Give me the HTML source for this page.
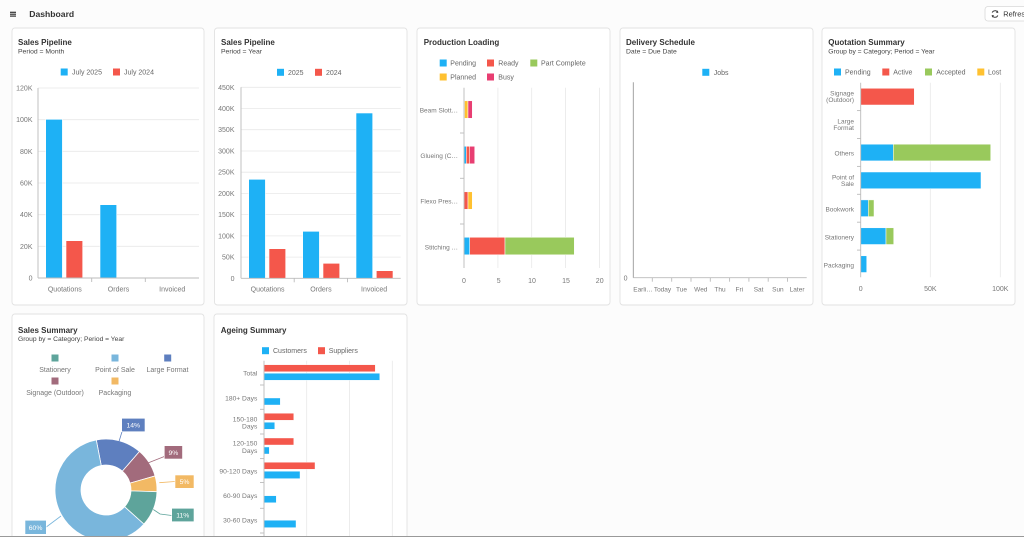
<!DOCTYPE html>
<html><head><meta charset="utf-8">
<style>
html,body{margin:0;padding:0;width:1024px;height:537px;overflow:hidden;background:#fcfcfc;}
svg{display:block;font-family:"Liberation Sans",sans-serif;}
</style></head>
<body>
<svg width="1024" height="537" viewBox="0 0 1024 537" xmlns="http://www.w3.org/2000/svg">
<!-- header -->
<g stroke="#333" stroke-width="1.2">
<line x1="10" y1="12.3" x2="16" y2="12.3"/><line x1="10" y1="14.2" x2="16" y2="14.2"/><line x1="10" y1="16.1" x2="16" y2="16.1"/>
</g>
<text x="29.3" y="17.2" font-size="8.6" font-weight="bold" fill="#333">Dashboard</text>
<rect x="985" y="6.5" width="60" height="14.5" rx="3" fill="#fff" stroke="#d8d8d8" stroke-width="0.8"/>
<g fill="none" stroke="#444" stroke-width="1">
<path d="M992.2,12.6 A3,3 0 0 1 997.6,12.2"/><path d="M997.8,15.4 A3,3 0 0 1 992.4,15.8"/>
</g>
<path d="M997.9,10.4 L998.3,13 L995.8,12.6 Z" fill="#444"/>
<path d="M992.1,17.6 L991.7,15 L994.2,15.4 Z" fill="#444"/>
<text x="1003.3" y="16.6" font-size="7.4" fill="#333">Refresh</text>

<!-- cards -->
<g fill="#fff" stroke="#e2e2e2" stroke-width="0.9">
<rect x="12" y="28" width="192" height="277" rx="3"/>
<rect x="214.5" y="28" width="192.5" height="277" rx="3"/>
<rect x="417" y="28" width="193" height="277" rx="3"/>
<rect x="620" y="28" width="193" height="277" rx="3"/>
<rect x="822" y="28" width="193" height="277" rx="3"/>
<rect x="12" y="314" width="192" height="240" rx="3"/>
<rect x="214" y="314" width="193" height="240" rx="3"/>
</g>

<!-- ========== Card 1 ========== -->
<text x="18" y="45" font-size="8" font-weight="bold" fill="#333">Sales Pipeline</text>
<text x="18" y="53.5" font-size="6.8" fill="#444">Period = Month</text>
<rect x="60.7" y="68.5" width="7" height="7" fill="#1eb1f5"/>
<text x="72" y="74.5" font-size="7" fill="#666">July 2025</text>
<rect x="113" y="68.5" width="7" height="7" fill="#f4574b"/>
<text x="124" y="74.5" font-size="7" fill="#666">July 2024</text>
<g stroke="#e8e8e8" stroke-width="0.8">
<line x1="38" y1="88" x2="199" y2="88"/><line x1="38" y1="119.7" x2="199" y2="119.7"/><line x1="38" y1="151.3" x2="199" y2="151.3"/>
<line x1="38" y1="183" x2="199" y2="183"/><line x1="38" y1="214.7" x2="199" y2="214.7"/><line x1="38" y1="246.3" x2="199" y2="246.3"/>
</g>
<g font-size="7" fill="#777" text-anchor="end">
<text x="32.5" y="90.5">120K</text><text x="32.5" y="122.2">100K</text><text x="32.5" y="153.8">80K</text>
<text x="32.5" y="185.5">60K</text><text x="32.5" y="217.2">40K</text><text x="32.5" y="248.8">20K</text><text x="32.5" y="280.5">0</text>
</g>
<g stroke="#fff" stroke-width="0.6">
<rect x="45.7" y="119.3" width="16.7" height="158.7" fill="#1eb1f5"/>
<rect x="66" y="240.7" width="16.7" height="37.3" fill="#f4574b"/>
<rect x="100" y="204.7" width="16.7" height="73.3" fill="#1eb1f5"/>
</g>
<g stroke="#bbb" stroke-width="0.9">
<line x1="38" y1="88" x2="38" y2="278"/><line x1="38" y1="278" x2="199" y2="278"/>
<line x1="91.7" y1="278" x2="91.7" y2="282"/><line x1="145.3" y1="278" x2="145.3" y2="282"/>
</g>
<g font-size="7" fill="#777" text-anchor="middle">
<text x="64.8" y="291.5">Quotations</text><text x="118.5" y="291.5">Orders</text><text x="172.2" y="291.5">Invoiced</text>
</g>

<!-- ========== Card 2 ========== -->
<text x="221" y="45" font-size="8" font-weight="bold" fill="#333">Sales Pipeline</text>
<text x="221" y="53.5" font-size="6.8" fill="#444">Period = Year</text>
<rect x="277" y="68.8" width="7" height="7" fill="#1eb1f5"/>
<text x="288" y="74.8" font-size="7" fill="#666">2025</text>
<rect x="315" y="68.8" width="7" height="7" fill="#f4574b"/>
<text x="326" y="74.8" font-size="7" fill="#666">2024</text>
<g stroke="#e8e8e8" stroke-width="0.8">
<line x1="241" y1="87.3" x2="400.7" y2="87.3"/><line x1="241" y1="108.5" x2="400.7" y2="108.5"/><line x1="241" y1="129.7" x2="400.7" y2="129.7"/>
<line x1="241" y1="151" x2="400.7" y2="151"/><line x1="241" y1="172.2" x2="400.7" y2="172.2"/><line x1="241" y1="193.4" x2="400.7" y2="193.4"/>
<line x1="241" y1="214.6" x2="400.7" y2="214.6"/><line x1="241" y1="235.9" x2="400.7" y2="235.9"/><line x1="241" y1="257.1" x2="400.7" y2="257.1"/>
</g>
<g font-size="7" fill="#777" text-anchor="end">
<text x="234.5" y="89.8">450K</text><text x="234.5" y="111">400K</text><text x="234.5" y="132.2">350K</text>
<text x="234.5" y="153.5">300K</text><text x="234.5" y="174.7">250K</text><text x="234.5" y="195.9">200K</text>
<text x="234.5" y="217.1">150K</text><text x="234.5" y="238.4">100K</text><text x="234.5" y="259.6">50K</text><text x="234.5" y="280.8">0</text>
</g>
<g stroke="#fff" stroke-width="0.6">
<rect x="248.7" y="179.3" width="16.7" height="99" fill="#1eb1f5"/>
<rect x="269" y="248.7" width="16.7" height="29.6" fill="#f4574b"/>
<rect x="302.7" y="231.3" width="16.7" height="47" fill="#1eb1f5"/>
<rect x="323" y="263.3" width="16.7" height="15" fill="#f4574b"/>
<rect x="356" y="113" width="16.7" height="165.3" fill="#1eb1f5"/>
<rect x="376.3" y="270.7" width="16.7" height="7.6" fill="#f4574b"/>
</g>
<g stroke="#bbb" stroke-width="0.9">
<line x1="241" y1="87.3" x2="241" y2="278.3"/><line x1="241" y1="278.3" x2="400.7" y2="278.3"/>
<line x1="294.2" y1="278.3" x2="294.2" y2="282.3"/><line x1="347.5" y1="278.3" x2="347.5" y2="282.3"/>
</g>
<g font-size="7" fill="#777" text-anchor="middle">
<text x="267.6" y="291.5">Quotations</text><text x="320.9" y="291.5">Orders</text><text x="374.1" y="291.5">Invoiced</text>
</g>

<!-- ========== Card 3 ========== -->
<text x="423.7" y="45" font-size="8" font-weight="bold" fill="#333">Production Loading</text>
<g font-size="7" fill="#666">
<rect x="439.7" y="59.5" width="7" height="7" fill="#1eb1f5"/><text x="450.3" y="65.5">Pending</text>
<rect x="487" y="59.5" width="7" height="7" fill="#f4574b"/><text x="498.3" y="65.5">Ready</text>
<rect x="530.3" y="59.5" width="7" height="7" fill="#99c95c"/><text x="541" y="65.5">Part Complete</text>
<rect x="439.7" y="73.5" width="7" height="7" fill="#ffc130"/><text x="450.3" y="79.5">Planned</text>
<rect x="487" y="73.5" width="7" height="7" fill="#e83e72"/><text x="498.3" y="79.5">Busy</text>
</g>
<g stroke="#e8e8e8" stroke-width="0.8">
<line x1="497.9" y1="87.7" x2="497.9" y2="268"/><line x1="531.7" y1="87.7" x2="531.7" y2="268"/>
<line x1="565.6" y1="87.7" x2="565.6" y2="268"/><line x1="599.4" y1="87.7" x2="599.4" y2="268"/>
</g>
<g stroke="#fff" stroke-width="0.5">
<rect x="464.5" y="100.8" width="3.5" height="17.5" fill="#ffc130"/>
<rect x="468" y="100.8" width="4.3" height="17.5" fill="#e83e72"/>
<rect x="464" y="146.3" width="2.3" height="17.5" fill="#1eb1f5"/>
<rect x="466.3" y="146.3" width="3.4" height="17.5" fill="#f4574b"/>
<rect x="469.7" y="146.3" width="5" height="17.5" fill="#e83e72"/>
<rect x="464" y="191.8" width="4" height="17.5" fill="#f4574b"/>
<rect x="468" y="191.8" width="4.3" height="17.5" fill="#ffc130"/>
<rect x="464" y="237.3" width="5.7" height="17.5" fill="#1eb1f5"/>
<rect x="469.7" y="237.3" width="35.3" height="17.5" fill="#f4574b"/>
<rect x="505" y="237.3" width="69.3" height="17.5" fill="#99c95c"/>
</g>
<g stroke="#bbb" stroke-width="0.9">
<line x1="464" y1="87.7" x2="464" y2="268"/>
<line x1="460" y1="133" x2="464" y2="133"/><line x1="460" y1="178.3" x2="464" y2="178.3"/><line x1="460" y1="224" x2="464" y2="224"/>
</g>
<g font-size="6.5" fill="#777" text-anchor="end">
<text x="458" y="112.6">Beam Slott…</text><text x="458" y="158">Glueing (C…</text>
<text x="458" y="203.6">Flexo Pres…</text><text x="458" y="249.3">Stitching …</text>
</g>
<g font-size="7" fill="#777" text-anchor="middle">
<text x="464" y="282.8">0</text><text x="498.7" y="282.8">5</text><text x="532" y="282.8">10</text>
<text x="566" y="282.8">15</text><text x="599.7" y="282.8">20</text>
</g>

<!-- ========== Card 4 ========== -->
<text x="626" y="45" font-size="8" font-weight="bold" fill="#333">Delivery Schedule</text>
<text x="626" y="53.5" font-size="6.8" fill="#444">Date = Due Date</text>
<rect x="702.3" y="68.8" width="7" height="7" fill="#1eb1f5"/>
<text x="713.7" y="74.8" font-size="7" fill="#666">Jobs</text>
<g stroke="#999" stroke-width="0.9">
<line x1="633.3" y1="82.3" x2="633.3" y2="277.7"/>
</g>
<g stroke="#bbb" stroke-width="0.9">
<line x1="633.3" y1="277.7" x2="806.7" y2="277.7"/>
<line x1="652.3" y1="277.7" x2="652.3" y2="281.7"/><line x1="671.7" y1="277.7" x2="671.7" y2="281.7"/>
<line x1="691" y1="277.7" x2="691" y2="281.7"/><line x1="710.3" y1="277.7" x2="710.3" y2="281.7"/>
<line x1="729.6" y1="277.7" x2="729.6" y2="281.7"/><line x1="748.9" y1="277.7" x2="748.9" y2="281.7"/>
<line x1="768.2" y1="277.7" x2="768.2" y2="281.7"/><line x1="787.5" y1="277.7" x2="787.5" y2="281.7"/>
</g>
<text x="627.5" y="280.5" font-size="7" fill="#777" text-anchor="end">0</text>
<g font-size="6.5" fill="#777" text-anchor="middle">
<text x="643" y="291.6">Earli…</text><text x="662.5" y="291.6">Today</text><text x="681.5" y="291.6">Tue</text>
<text x="700.8" y="291.6">Wed</text><text x="720" y="291.6">Thu</text><text x="739.3" y="291.6">Fri</text>
<text x="758.6" y="291.6">Sat</text><text x="777.9" y="291.6">Sun</text><text x="797.1" y="291.6">Later</text>
</g>

<!-- ========== Card 5 ========== -->
<text x="828.3" y="45" font-size="8" font-weight="bold" fill="#333">Quotation Summary</text>
<text x="828.3" y="53.5" font-size="6.7" fill="#444">Group by = Category; Period = Year</text>
<g font-size="7" fill="#666">
<rect x="834" y="68.5" width="7" height="7" fill="#1eb1f5"/><text x="845" y="74.5">Pending</text>
<rect x="882.3" y="68.5" width="7" height="7" fill="#f4574b"/><text x="893.3" y="74.5">Active</text>
<rect x="925" y="68.5" width="7" height="7" fill="#99c95c"/><text x="936.3" y="74.5">Accepted</text>
<rect x="977.3" y="68.5" width="7" height="7" fill="#ffc130"/><text x="988" y="74.5">Lost</text>
</g>
<g stroke="#e8e8e8" stroke-width="0.8">
<line x1="930.3" y1="82.7" x2="930.3" y2="277.3"/><line x1="1000.3" y1="82.7" x2="1000.3" y2="277.3"/>
</g>
<g stroke="#fff" stroke-width="0.5">
<rect x="860.7" y="88.3" width="53.6" height="16.7" fill="#f4574b"/>
<rect x="860.7" y="144.2" width="32.6" height="16.7" fill="#1eb1f5"/>
<rect x="893.3" y="144.2" width="97.4" height="16.7" fill="#99c95c"/>
<rect x="860.7" y="172" width="120.3" height="16.7" fill="#1eb1f5"/>
<rect x="860.7" y="199.9" width="7.6" height="16.7" fill="#1eb1f5"/>
<rect x="868.3" y="199.9" width="5.7" height="16.7" fill="#99c95c"/>
<rect x="860.7" y="227.8" width="25.3" height="16.7" fill="#1eb1f5"/>
<rect x="886" y="227.8" width="7.7" height="16.7" fill="#99c95c"/>
<rect x="860.7" y="255.8" width="6" height="16.7" fill="#1eb1f5"/>
</g>
<g stroke="#bbb" stroke-width="0.9">
<line x1="860.7" y1="82.7" x2="860.7" y2="277.3"/>
<line x1="857" y1="110.6" x2="860.7" y2="110.6"/><line x1="857" y1="138.5" x2="860.7" y2="138.5"/>
<line x1="857" y1="166.4" x2="860.7" y2="166.4"/><line x1="857" y1="194.3" x2="860.7" y2="194.3"/>
<line x1="857" y1="222.2" x2="860.7" y2="222.2"/><line x1="857" y1="250.1" x2="860.7" y2="250.1"/>
</g>
<g font-size="6.5" fill="#777" text-anchor="end">
<text x="854" y="95.6">Signage</text><text x="854" y="101.8">(Outdoor)</text>
<text x="854" y="123.6">Large</text><text x="854" y="130">Format</text>
<text x="854" y="155.6">Others</text>
<text x="854" y="179.6">Point of</text><text x="854" y="186">Sale</text>
<text x="854" y="211.3">Bookwork</text>
<text x="854" y="239.6">Stationery</text>
<text x="854" y="267.6">Packaging</text>
</g>
<g font-size="7" fill="#777" text-anchor="middle">
<text x="860.7" y="291.2">0</text><text x="930.3" y="291.2">50K</text><text x="1000.3" y="291.2">100K</text>
</g>

<!-- ========== Card 6 ========== -->
<text x="18" y="333" font-size="8" font-weight="bold" fill="#333">Sales Summary</text>
<text x="18" y="340.8" font-size="6.7" fill="#444">Group by = Category; Period = Year</text>
<rect x="51.5" y="354.5" width="7" height="7" fill="#5ea49b"/>
<rect x="111.5" y="354.5" width="7" height="7" fill="#79b6dc"/>
<rect x="164.2" y="354.5" width="7" height="7" fill="#5e7fbf"/>
<rect x="51.5" y="377.5" width="7" height="7" fill="#a26b7c"/>
<rect x="111.5" y="377.5" width="7" height="7" fill="#f2b964"/>
<g font-size="7" fill="#777" text-anchor="middle">
<text x="55" y="371.8">Stationery</text><text x="115" y="371.8">Point of Sale</text><text x="167.5" y="371.8">Large Format</text>
<text x="55" y="394.8">Signage (Outdoor)</text><text x="115" y="394.8">Packaging</text>
</g>
<g stroke="#fff" stroke-width="0.8">
<path d="M96.27,439.94 A51,51 0 0 1 139.46,451.51 L122.40,471.13 A25,25 0 0 0 101.23,465.46 Z" fill="#5e7fbf"/>
<path d="M139.46,451.51 A51,51 0 0 1 155.03,475.94 L130.03,483.11 A25,25 0 0 0 122.40,471.13 Z" fill="#a26b7c"/>
<path d="M155.03,475.94 A51,51 0 0 1 156.97,491.78 L130.98,490.87 A25,25 0 0 0 130.03,483.11 Z" fill="#f2b964"/>
<path d="M156.97,491.78 A51,51 0 0 1 143.90,524.12 L124.58,506.73 A25,25 0 0 0 130.98,490.87 Z" fill="#5ea49b"/>
<path d="M143.90,524.12 A51,51 0 1 1 96.27,439.94 L101.23,465.46 A25,25 0 1 0 124.58,506.73 Z" fill="#79b6dc"/>
</g>
<g fill="none" stroke-width="0.8">
<path d="M122,431.7 L119,441.5" stroke="#5e7fbf"/>
<path d="M164.3,456.5 L148.5,462.7" stroke="#a26b7c"/>
<path d="M175,481.5 L159.3,482.7" stroke="#f2b964"/>
<path d="M171.7,515.5 L160,514 L153.3,509.5" stroke="#5ea49b"/>
<path d="M46.3,527 L61,516" stroke="#79b6dc"/>
</g>
<g stroke="#fff" stroke-width="0.6">
<rect x="121.7" y="418.3" width="23.3" height="13.4" fill="#5e7fbf"/>
<rect x="164.3" y="445.7" width="18.2" height="13.3" fill="#a26b7c"/>
<rect x="175" y="475" width="19" height="13.3" fill="#f2b964"/>
<rect x="171.7" y="508.3" width="22.3" height="13.4" fill="#5ea49b"/>
<rect x="25" y="520.3" width="21.3" height="14" fill="#79b6dc"/>
</g>
<g font-size="6.8" fill="#fff" text-anchor="middle">
<text x="133.3" y="427.4">14%</text><text x="173.4" y="454.8">9%</text><text x="184.5" y="484">5%</text>
<text x="182.8" y="517.4">11%</text><text x="35.6" y="529.8">60%</text>
</g>

<!-- ========== Card 7 ========== -->
<text x="220.7" y="333" font-size="8" font-weight="bold" fill="#333">Ageing Summary</text>
<rect x="262" y="347.2" width="7" height="7" fill="#1eb1f5"/>
<text x="273" y="353.2" font-size="7" fill="#666">Customers</text>
<rect x="318" y="347.2" width="7" height="7" fill="#f4574b"/>
<text x="328.7" y="353.2" font-size="7" fill="#666">Suppliers</text>
<g stroke="#e8e8e8" stroke-width="0.8">
<line x1="306.7" y1="360.7" x2="306.7" y2="537"/><line x1="349.5" y1="360.7" x2="349.5" y2="537"/><line x1="392.3" y1="360.7" x2="392.3" y2="537"/>
</g>
<g stroke="#fff" stroke-width="0.4">
<rect x="264" y="364.7" width="111.3" height="7" fill="#f4574b"/>
<rect x="264" y="373.3" width="115.7" height="7" fill="#1eb1f5"/>
<rect x="264" y="398" width="16.3" height="7" fill="#1eb1f5"/>
<rect x="264" y="413.3" width="29.7" height="7" fill="#f4574b"/>
<rect x="264" y="422.3" width="10.7" height="7" fill="#1eb1f5"/>
<rect x="264" y="438" width="29.7" height="7" fill="#f4574b"/>
<rect x="264" y="447" width="5.3" height="7" fill="#1eb1f5"/>
<rect x="264" y="462.3" width="51" height="7" fill="#f4574b"/>
<rect x="264" y="471.3" width="36" height="7.3" fill="#1eb1f5"/>
<rect x="264" y="495.7" width="12.3" height="7" fill="#1eb1f5"/>
<rect x="264" y="520.3" width="32" height="7.3" fill="#1eb1f5"/>
</g>
<g stroke="#bbb" stroke-width="0.9">
<line x1="264" y1="360.7" x2="264" y2="537"/>
<line x1="260" y1="385" x2="264" y2="385"/><line x1="260" y1="409.3" x2="264" y2="409.3"/>
<line x1="260" y1="434" x2="264" y2="434"/><line x1="260" y1="458.6" x2="264" y2="458.6"/>
<line x1="260" y1="482.5" x2="264" y2="482.5"/><line x1="260" y1="508.3" x2="264" y2="508.3"/>
<line x1="260" y1="533" x2="264" y2="533"/>
</g>
<g font-size="6.7" fill="#777" text-anchor="end">
<text x="257.3" y="375.6">Total</text>
<text x="257.3" y="400.3">180+ Days</text>
<text x="257.3" y="421.3">150-180</text><text x="257.3" y="428.6">Days</text>
<text x="257.3" y="445.6">120-150</text><text x="257.3" y="453">Days</text>
<text x="257.3" y="473.6">90-120 Days</text>
<text x="257.3" y="498">60-90 Days</text>
<text x="257.3" y="522.6">30-60 Days</text>
</g>

<!-- bottom line -->
<line x1="0" y1="536.5" x2="1024" y2="536.5" stroke="#999" stroke-width="1"/>
</svg>
</body></html>
